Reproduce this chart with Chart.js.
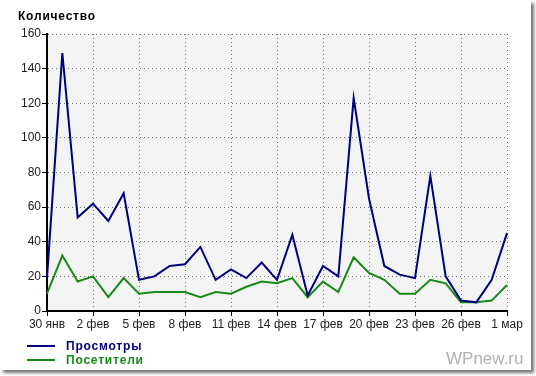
<!DOCTYPE html>
<html>
<head>
<meta charset="utf-8">
<script src="https://cdn.jsdelivr.net/npm/chart.js@4.4.1/dist/chart.umd.min.js"></script>
<style>
  body { margin: 0; background: #fff; }
  #card {
    position: absolute; left: 0; top: 0; width: 531px; height: 370px;
    background: #fff; box-shadow: 3px 3px 3px #777;
  }
  #wrap { position: absolute; left: 0; top: 0; width: 536px; height: 376px; }
  .lbl { position: absolute; font-family: "Liberation Sans", Arial, sans-serif; white-space: nowrap; }
  #title { left: 18px; top: 9px; font-size: 12px; font-weight: bold; letter-spacing: 0.8px; color: #000; }
  .leg { left: 27px; font-size: 12px; font-weight: bold; letter-spacing: 0.8px; }
  .leg span { display: inline-block; width: 28px; height: 2px; vertical-align: middle; margin-right: 11px; position: relative; top: -1px; }
  #mark { left: 446px; top: 349px; font-size: 17px; color: #b0b0b0; }
</style>
</head>
<body>
<div id="card"></div>
<div id="wrap"><canvas id="chart" width="536" height="376"></canvas></div>
<div id="title" class="lbl">Количество</div>
<div id="leg1" class="lbl leg" style="top:339px"></div>
<div id="leg2" class="lbl leg" style="top:353px"></div>
<div id="mark" class="lbl">WPnew.ru</div>
<script>
// Dates, 30 Jan .. 1 Mar
const dates = ["30 янв", "31 янв", "1 фев", "2 фев", "3 фев", "4 фев", "5 фев", "6 фев",
  "7 фев", "8 фев", "9 фев", "10 фев", "11 фев", "12 фев", "13 фев", "14 фев", "15 фев",
  "16 фев", "17 фев", "18 фев", "19 фев", "20 фев", "21 фев", "22 фев", "23 фев", "24 фев",
  "25 фев", "26 фев", "27 фев", "28 фев", "1 мар"];
const views = [19, 149, 54, 62, 52, 68, 18, 20, 26, 27, 37, 18, 24, 19, 28, 18, 44, 9,
  26, 20, 123, 65, 26, 21, 19, 78, 20, 6, 5, 18, 45];
const visitors = [10, 32, 17, 20, 8, 19, 10, 11, 11, 11, 8, 11, 10, 14, 17, 16, 19, 8,
  17, 11, 31, 22, 18, 10, 10, 18, 16, 5, 5, 6, 15];
const seriesNames = ["Просмотры", "Посетители"];
const seriesColors = ["#00007a", "#178a17"];
const yTicks = [0, 20, 40, 60, 80, 100, 120, 140, 160];

const font = { family: "'Liberation Sans', Arial, sans-serif", size: 12 };

// light grey plot background
const plotBg = {
  id: 'plotBg',
  beforeDraw(chart) {
    const a = chart.chartArea, c = chart.ctx;
    c.save();
    c.fillStyle = '#f4f4f4';
    c.fillRect(a.left, a.top, a.right - a.left, a.bottom - a.top);
    c.restore();
  }
};

const ctx = document.getElementById('chart').getContext('2d');
new Chart(ctx, {
  type: 'line',
  data: {
    labels: dates,
    datasets: [
      { label: seriesNames[0], data: views, borderColor: seriesColors[0], borderWidth: 2, pointRadius: 0, tension: 0 },
      { label: seriesNames[1], data: visitors, borderColor: seriesColors[1], borderWidth: 2, pointRadius: 0, tension: 0 }
    ]
  },
  options: {
    responsive: false,
    animation: false,
    layout: { padding: { left: 0, top: 34, right: 29, bottom: 45 } },
    plugins: { legend: { display: false }, tooltip: { enabled: false } },
    scales: {
      x: {
        type: 'category',
        afterFit(s) { s.height = 20; },
        grid: {
          color: c => c.index % 3 === 0 ? '#707070' : 'transparent',
          tickColor: c => c.index % 3 === 0 ? '#000' : 'transparent',
          tickBorderDash: [], tickLength: 5, lineWidth: 1
        },
        border: { color: '#000', width: 2, dash: [1, 3] },
        ticks: {
          autoSkip: false, maxRotation: 0, padding: 1, color: '#222', font,
          callback(v, i) { return i % 3 === 0 ? this.getLabelForValue(v) : ''; }
        }
      },
      y: {
        min: 0, max: 160,
        afterFit(s) { s.width = 47; },
        afterBuildTicks(s) { s.ticks = yTicks.map(v => ({ value: v })); },
        grid: { color: '#707070', tickColor: '#000', tickBorderDash: [], tickLength: 5 },
        border: { color: '#000', width: 2, dash: [1, 3] },
        ticks: { padding: 1, color: '#222', font }
      }
    }
  },
  plugins: [plotBg]
});

// legend as text
['leg1', 'leg2'].forEach((id, i) => {
  const el = document.getElementById(id);
  el.style.color = seriesColors[i];
  el.innerHTML = '<span style="background:' + seriesColors[i] + '"></span>' + seriesNames[i];
});
</script>
</body>
</html>
